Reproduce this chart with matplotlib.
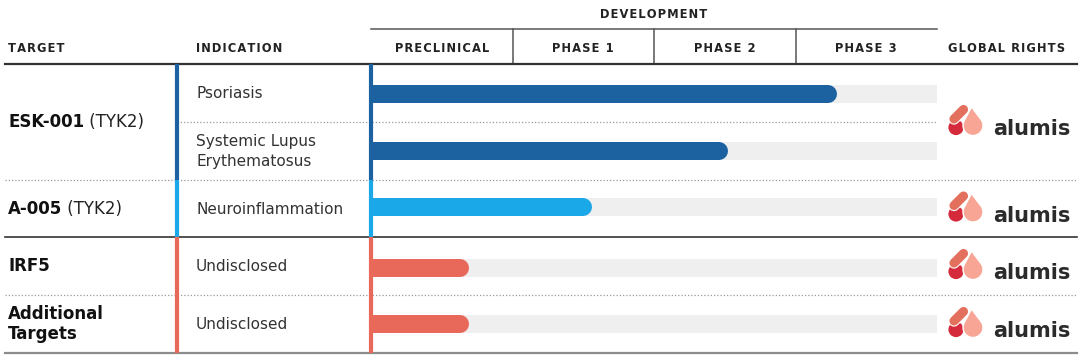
import numpy as np
import matplotlib
matplotlib.use('Agg')
import matplotlib.pyplot as plt
from matplotlib.patches import Polygon, Circle

# data
phases = ['PRECLINICAL', 'PHASE 1', 'PHASE 2', 'PHASE 3']
targets = ['ESK-001', 'A-005', 'IRF5', 'Additional\nTargets']
target_notes = [' (TYK2)', ' (TYK2)', '', '']
indications = ['Psoriasis', 'Systemic Lupus\nErythematosus', 'Neuroinflammation',
               'Undisclosed', 'Undisclosed']
indication_target = [0, 0, 1, 2, 3]
progress = [3.29, 2.52, 1.56, 0.69, 0.69]   # in phases, preclinical start = 0
rights = ['alumis', 'alumis', 'alumis', 'alumis']

target_colors = ['#1d62a0', '#1aa8e8', '#e8695a', '#e8695a']

W, H = 1080, 357
fig = plt.figure(figsize=(W / 100, H / 100), dpi=100)
ax = fig.add_axes([0, 0, 1, 1])
ax.set_xlim(0, W)
ax.set_ylim(H, 0)
ax.axis('off')

# layout (pixels)
col_ind, col_dev, col_end, col_right = 176.5, 371, 937, 1077
row_edges = [64, 122, 180, 237, 295, 353]
row_mid = [(a + b) / 2 for a, b in zip(row_edges[:-1], row_edges[1:])]
phase_w = (col_end - col_dev) / len(phases)

HS = '\u200a'


def spaced(s):
    return HS.join(s)


hdr = dict(fontsize=8.3, fontweight='bold', color='#222222', va='center',
           family='DejaVu Sans')
ax.text((col_dev + col_end) / 2, 14, spaced('DEVELOPMENT'), ha='center', **hdr)
ax.text(8, 48, spaced('TARGET'), ha='left', **hdr)
ax.text(196, 48, spaced('INDICATION'), ha='left', **hdr)
for i, p in enumerate(phases):
    ax.text(col_dev + (i + 0.5) * phase_w, 48, spaced(p), ha='center', **hdr)
ax.text(1007, 48, spaced('GLOBAL RIGHTS'), ha='center', **hdr)

# header lines
ax.plot([col_dev, col_end], [29, 29], color='#555555', lw=1.1)
for i in range(1, len(phases)):
    x = col_dev + i * phase_w
    ax.plot([x, x], [29, 64], color='#555555', lw=1.1)
ax.plot([5, col_right], [64, 64], color='#333333', lw=1.6)

# row separators
dot = dict(color='#9a9a9a', lw=0.9, linestyle=(0, (1, 1.6)))
ax.plot([col_ind, col_end], [row_edges[1]] * 2, **dot)
ax.plot([5, col_right], [row_edges[2]] * 2, **dot)
ax.plot([5, col_right], [row_edges[3]] * 2, color='#333333', lw=1.2)
ax.plot([5, col_right], [row_edges[4]] * 2, **dot)
ax.plot([5, col_right], [row_edges[5]] * 2, color='#8c8c8c', lw=1.6)

# target groups -> which rows
groups = {}
for r, t in enumerate(indication_target):
    groups.setdefault(t, []).append(r)

for t, rows in groups.items():
    y0, y1 = row_edges[rows[0]], row_edges[rows[-1] + 1]
    ym = (y0 + y1) / 2
    c = target_colors[t]
    for x in (col_ind, col_dev):
        ax.plot([x, x], [y0, y1], color=c, lw=3, solid_capstyle='butt', zorder=4)
    t1 = ax.text(8, ym, targets[t], fontsize=12, fontweight='bold', color='#111111',
                 ha='left', va='center', linespacing=1.2)
    if target_notes[t]:
        ax.annotate(target_notes[t], xy=(1, 0), xycoords=t1, fontsize=12,
                    color='#222222', ha='left', va='bottom')

for r, ind in enumerate(indications):
    ax.text(196, row_mid[r] + 0.5, ind, fontsize=11, color='#333333',
            ha='left', va='center', linespacing=1.35)

# bars
bax = fig.add_axes([col_dev / W, 0, (col_end - col_dev) / W, 1])
bax.set_xlim(0, len(phases))
bax.set_ylim(H, 0)
bax.axis('off')
bar_h = 18
bar_y = [94, 151, 207, 267.5, 324]
bax.barh(bar_y, len(phases), left=0, height=bar_h, color='#efefef', zorder=1)
r_data = (bar_h / 2) / phase_w
for y, v, t in zip(bar_y, progress, indication_target):
    bax.plot([0, v - r_data], [y, y], color=target_colors[t], lw=bar_h * 0.72,
             solid_capstyle='round', zorder=2)


# alumis logo
def teardrop(apex, c, r, n=60):
    ax_, ay = apex
    cx, cy = c
    d = np.hypot(ax_ - cx, ay - cy)
    phi = np.arctan2(ay - cy, ax_ - cx)
    a = np.arccos(r / d)
    th = np.linspace(phi + a, phi - a + 2 * np.pi, n)
    pts = np.column_stack([cx + r * np.cos(th), cy + r * np.sin(th)])
    return np.vstack([[apex], pts])


def logo(x0, yc, name):
    ax.add_patch(Circle((x0 + 8, yc + 7.5), 7.6, fc='#d42a3c', ec='none', zorder=5))
    ax.add_patch(Polygon(teardrop((x0 + 23.5, yc - 13), (x0 + 25, yc + 5.5), 10),
                         closed=True, fc='#f8a596', ec='white', lw=1.0, zorder=6))
    seg = ([x0 + 15.5, x0 + 6], [yc - 10.5, yc - 1])
    ax.plot(*seg, color='white', lw=8.2, solid_capstyle='round', zorder=7)
    ax.plot(*seg, color='#e3705c', lw=6.6, solid_capstyle='round', zorder=8)
    ax.text(x0 + 45, yc + 15, name, fontsize=15, fontweight='bold',
            color='#2b2b2b', ha='left', va='baseline', zorder=8)


for t, rows in groups.items():
    y0, y1 = row_edges[rows[0]], row_edges[rows[-1] + 1]
    logo(948, (y0 + y1) / 2 - 2, rights[t])

fig.savefig('out.png', dpi=100)
